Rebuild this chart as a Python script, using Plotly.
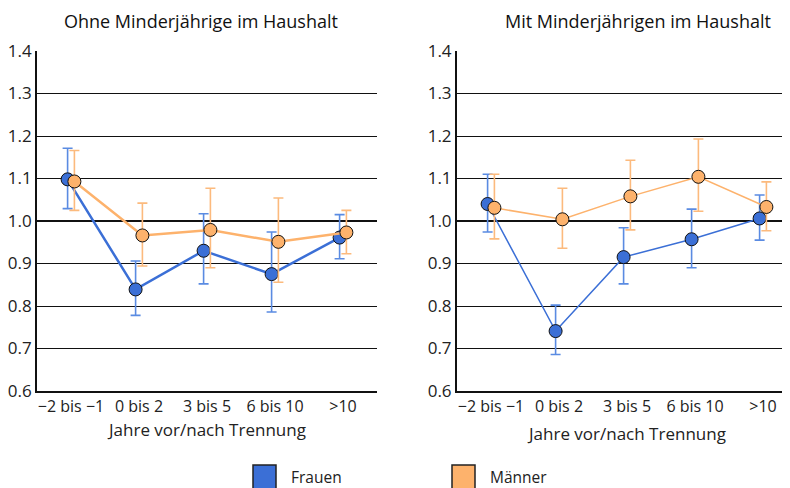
import plotly.graph_objects as go

categories = ["\u22122 bis \u22121", "0 bis 2", "3 bis 5", "6 bis 10", ">10"]
y_ticks = [0.6, 0.7, 0.8, 0.9, 1.0, 1.1, 1.2, 1.3, 1.4]
y_tick_labels = ["0.6", "0.7", "0.8", "0.9", "1.0", "1.1", "1.2", "1.3", "1.4"]

panel_titles = ["Ohne Minderjährige im Haushalt", "Mit Minderjährigen im Haushalt"]
x_title = "Jahre vor/nach Trennung"
series_names = ["Frauen", "Männer"]

# Panel 1: Ohne Minderjährige im Haushalt
ohne_frauen = [1.098, 0.839, 0.930, 0.875, 0.961]
ohne_frauen_lo = [1.029, 0.778, 0.852, 0.786, 0.911]
ohne_frauen_hi = [1.171, 0.906, 1.017, 0.974, 1.015]
ohne_maenner = [1.093, 0.966, 0.979, 0.951, 0.973]
ohne_maenner_lo = [1.025, 0.894, 0.890, 0.856, 0.923]
ohne_maenner_hi = [1.166, 1.042, 1.077, 1.054, 1.025]

# Panel 2: Mit Minderjährigen im Haushalt
mit_frauen = [1.040, 0.741, 0.915, 0.957, 1.006]
mit_frauen_lo = [0.974, 0.686, 0.852, 0.890, 0.955]
mit_frauen_hi = [1.110, 0.802, 0.984, 1.028, 1.061]
mit_maenner = [1.031, 1.004, 1.058, 1.104, 1.033]
mit_maenner_lo = [0.958, 0.936, 0.979, 1.023, 0.977]
mit_maenner_hi = [1.110, 1.077, 1.143, 1.193, 1.092]

W, H = 790, 488
OFF = 8  # page body margin of the html page
FONT = "Open Sans"
BLUE = "#3b6fd6"
BLUE_ERR = "#5a8be2"
ORANGE = "#fdb26c"
ORANGE_ERR = "#fcba7d"

fig = go.Figure()

def px_x(p):
    return (p - OFF) / W

def px_y(p):
    return 1 - (p - OFF) / H

panels = [
    ("x", "y", [(ohne_frauen, ohne_frauen_lo, ohne_frauen_hi), (ohne_maenner, ohne_maenner_lo, ohne_maenner_hi)], 2.5),
    ("x2", "y2", [(mit_frauen, mit_frauen_lo, mit_frauen_hi), (mit_maenner, mit_maenner_lo, mit_maenner_hi)], 1.5),
]
colors = [(BLUE, BLUE_ERR), (ORANGE, ORANGE_ERR)]
offsets = [-0.05, 0.05]

for xa, ya, series, lw in panels:
    for (vals, lo, hi), (col, ecol), off, name in zip(series, colors, offsets, series_names):
        xs = [i + off for i in range(len(categories))]
        fig.add_trace(go.Scatter(
            x=xs, y=vals, xaxis=xa, yaxis=ya, name=name, showlegend=False,
            mode="lines+markers", cliponaxis=False,
            line=dict(color=col, width=lw),
            marker=dict(size=13, color=col, line=dict(color="#111111", width=1)),
            error_y=dict(type="data", symmetric=False,
                         array=[h - v for h, v in zip(hi, vals)],
                         arrayminus=[v - l for v, l in zip(vals, lo)],
                         color=ecol, thickness=1.6, width=5),
        ))

ytop, ybot = 51, 391
axis_common = dict(
    showline=True, linecolor="#111111", linewidth=2, mirror=False,
    showgrid=False, zeroline=False, ticks="", automargin=False,
    tickfont=dict(family=FONT, size=16, color="#222222"),
)
ygrid = {"showgrid": True, "gridcolor": "#111111", "gridwidth": 1,
         "tickfont": dict(family=FONT, size=17, color="#222222")}
x2_right_px = 790
fig.update_layout(
    template="none",
    width=W, height=H, autosize=False,
    margin=dict(l=0, r=0, t=0, b=0, pad=0),
    paper_bgcolor="white", plot_bgcolor="white",
    showlegend=False,
    xaxis=dict(domain=[px_x(37), px_x(377)], range=[-0.5, 4.5],
               tickvals=list(range(len(categories))), ticktext=categories,
               anchor="y", **axis_common),
    yaxis=dict(domain=[px_y(ybot), px_y(ytop)], range=[0.6, 1.4],
               tickvals=y_ticks, ticktext=y_tick_labels, anchor="x",
               **{**axis_common, **ygrid}),
    xaxis2=dict(domain=[px_x(457), px_x(x2_right_px)],
                range=[-0.5, -0.5 + (x2_right_px - 457) / 68],
                tickvals=list(range(len(categories))), ticktext=categories,
                anchor="y2", **axis_common),
    yaxis2=dict(domain=[px_y(ybot), px_y(ytop)], range=[0.6, 1.4],
                tickvals=y_ticks, ticktext=y_tick_labels, anchor="x2",
                **{**axis_common, **ygrid}),
)

# thicker reference line at 1.0
for xr, yr in [("x domain", "y"), ("x2 domain", "y2")]:
    fig.add_shape(type="line", xref=xr, yref=yr, x0=0, x1=1, y0=1.0, y1=1.0,
                  line=dict(color="#111111", width=2), layer="below")

# titles
for t, cx in zip(panel_titles, [200.5, 637.5]):
    fig.add_annotation(text=t, x=px_x(cx), y=px_y(20.5), xref="paper", yref="paper",
                       showarrow=False, xanchor="center", yanchor="middle",
                       font=dict(family=FONT, size=18, color="#111111"))
# x axis titles
for cx, cy in [(206, 429), (626, 433)]:
    fig.add_annotation(text=x_title, x=px_x(cx), y=px_y(cy), xref="paper", yref="paper",
                       showarrow=False, xanchor="center", yanchor="middle",
                       font=dict(family=FONT, size=17, color="#222222"))

# legend
for name, (col, _), sx in zip(series_names, colors, [253, 452]):
    fig.add_shape(type="rect", xref="paper", yref="paper",
                  x0=px_x(sx), x1=px_x(sx + 23), y0=px_y(465), y1=px_y(489),
                  fillcolor=col, line=dict(color="#222222", width=1.5))
    fig.add_annotation(text=name, x=px_x(sx + 36), y=px_y(476.5), xref="paper", yref="paper",
                       showarrow=False, xanchor="left", yanchor="middle",
                       font=dict(family=FONT, size=15.5, color="#222222"))

fig.write_html("out.html")
